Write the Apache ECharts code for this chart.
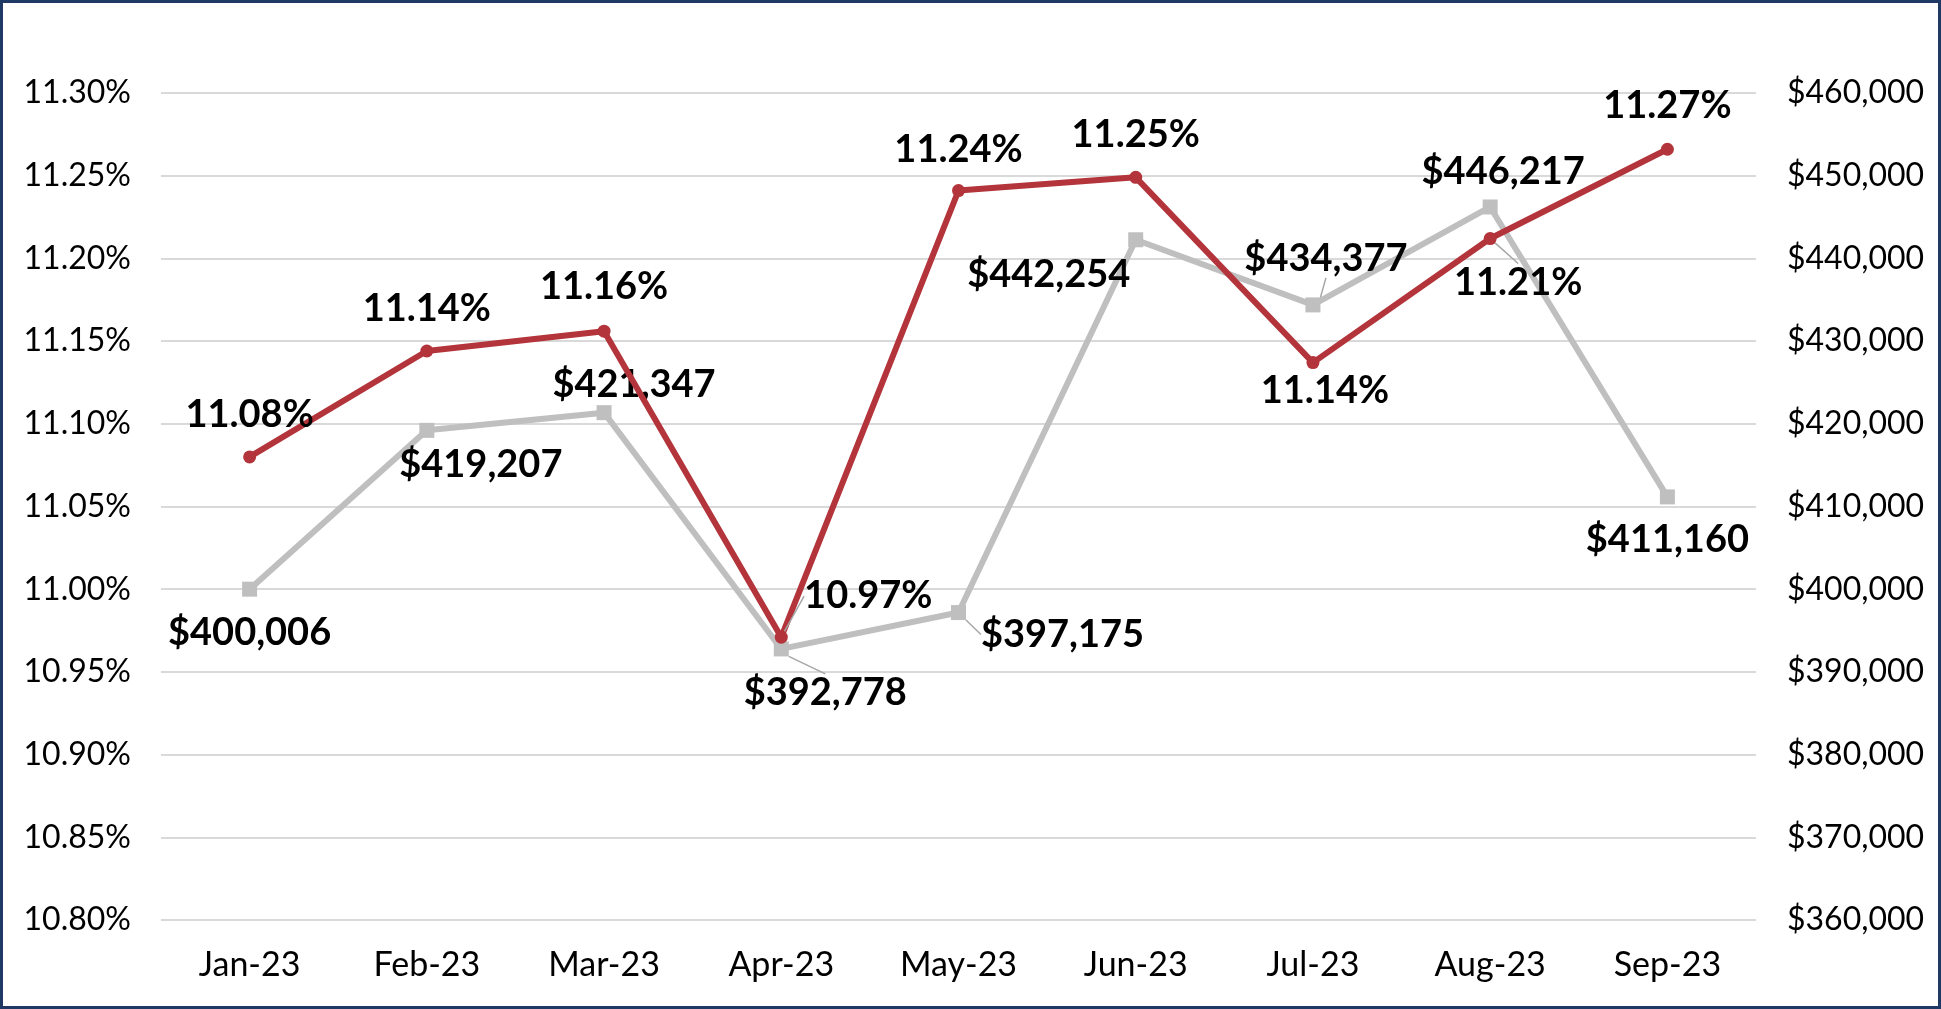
<!DOCTYPE html>
<html>
<head>
<meta charset="utf-8">
<script src="https://cdn.jsdelivr.net/npm/echarts@6/dist/echarts.min.js"></script>
<style>
  body { margin: 0; background: #fff; }
  #chart {
    width: 1941px;
    height: 1009px;
    box-sizing: border-box;
    border: 3px solid #1f3864;
  }
</style>
</head>
<body>
<div id="chart"></div>
<script>
const months = ["Jan-23", "Feb-23", "Mar-23", "Apr-23", "May-23", "Jun-23", "Jul-23", "Aug-23", "Sep-23"];
const rateValues = [11.08, 11.144, 11.156, 10.971, 11.241, 11.249, 11.137, 11.212, 11.266];
const balanceValues = [400006, 419207, 421347, 392778, 397175, 442254, 434377, 446217, 411160];

// label shifts from the point (centre of label), px
const rateLabelOffsets = [[0, -42], [0, -42], [0, -44], [87, -41], [0, -41], [0, -43], [12, 28], [28, 44], [0, -43]];
const balanceLabelOffsets = [[0, 44], [54, 34], [30, -28], [44, 44], [104, 22], [-87, 35], [13, -46], [13, -35], [0, 43]];
const rateLeaders = [3, 7];
const balanceLeaders = [3, 4, 6];

const RED = "#b3343a";
const GREY = "#bfbfbf";
const FONT = "Lato";

function fmtRate(v) {
  return v.toFixed(2) + "%";
}
function fmtMoney(v) {
  return "$" + Math.round(v).toLocaleString("en-US");
}

function buildData(values, leaders, fmt) {
  return values.map((v, i) => ({
    value: v,
    label: { formatter: fmt(v) },
    labelLine: {
      show: leaders.includes(i),
      lineStyle: { color: "#a6a6a6", width: 1.5 },
    },
  }));
}

const labelStyle = {
  show: true,
  position: "inside",
  fontFamily: FONT,
  fontWeight: "bold",
  fontSize: 38,
  color: "#000",
};

const chart = echarts.init(document.getElementById("chart"), null, { renderer: "canvas" });

chart.setOption({
  animation: false,
  backgroundColor: "#fff",
  grid: { left: 158, right: 182, top: 90, bottom: 86 },
  xAxis: {
    type: "category",
    data: months,
    axisLine: { show: false },
    axisTick: { show: false },
    axisLabel: { fontFamily: FONT, fontSize: 34, color: "#000", margin: 28 },
  },
  yAxis: [
    {
      type: "value",
      min: 10.8,
      max: 11.3,
      interval: 0.05,
      axisLine: { show: false },
      axisTick: { show: false },
      axisLabel: {
        fontFamily: FONT,
        fontSize: 32,
        color: "#000",
        margin: 30,
        formatter: (v) => v.toFixed(2) + "%",
      },
      splitLine: { lineStyle: { color: "#d9d9d9", width: 2 } },
    },
    {
      type: "value",
      min: 360000,
      max: 460000,
      interval: 10000,
      axisLine: { show: false },
      axisTick: { show: false },
      axisLabel: {
        fontFamily: FONT,
        fontSize: 32,
        color: "#000",
        margin: 31,
        formatter: (v) => "$" + v.toLocaleString("en-US"),
      },
      splitLine: { show: false },
    },
  ],
  series: [
    {
      name: "Balance",
      type: "line",
      yAxisIndex: 1,
      data: buildData(balanceValues, balanceLeaders, fmtMoney),
      symbol: "rect",
      symbolSize: 15,
      itemStyle: { color: GREY },
      lineStyle: { color: GREY, width: 6 },
      label: labelStyle,
      labelLayout: (params) => ({
        dx: balanceLabelOffsets[params.dataIndex][0],
        dy: balanceLabelOffsets[params.dataIndex][1],
      }),
      z: 2,
    },
    {
      name: "Rate",
      type: "line",
      yAxisIndex: 0,
      data: buildData(rateValues, rateLeaders, fmtRate),
      symbol: "circle",
      symbolSize: 13,
      itemStyle: { color: RED },
      lineStyle: { color: RED, width: 6 },
      label: labelStyle,
      labelLayout: (params) => ({
        dx: rateLabelOffsets[params.dataIndex][0],
        dy: rateLabelOffsets[params.dataIndex][1],
      }),
      z: 3,
    },
  ],
});
</script>
</body>
</html>
